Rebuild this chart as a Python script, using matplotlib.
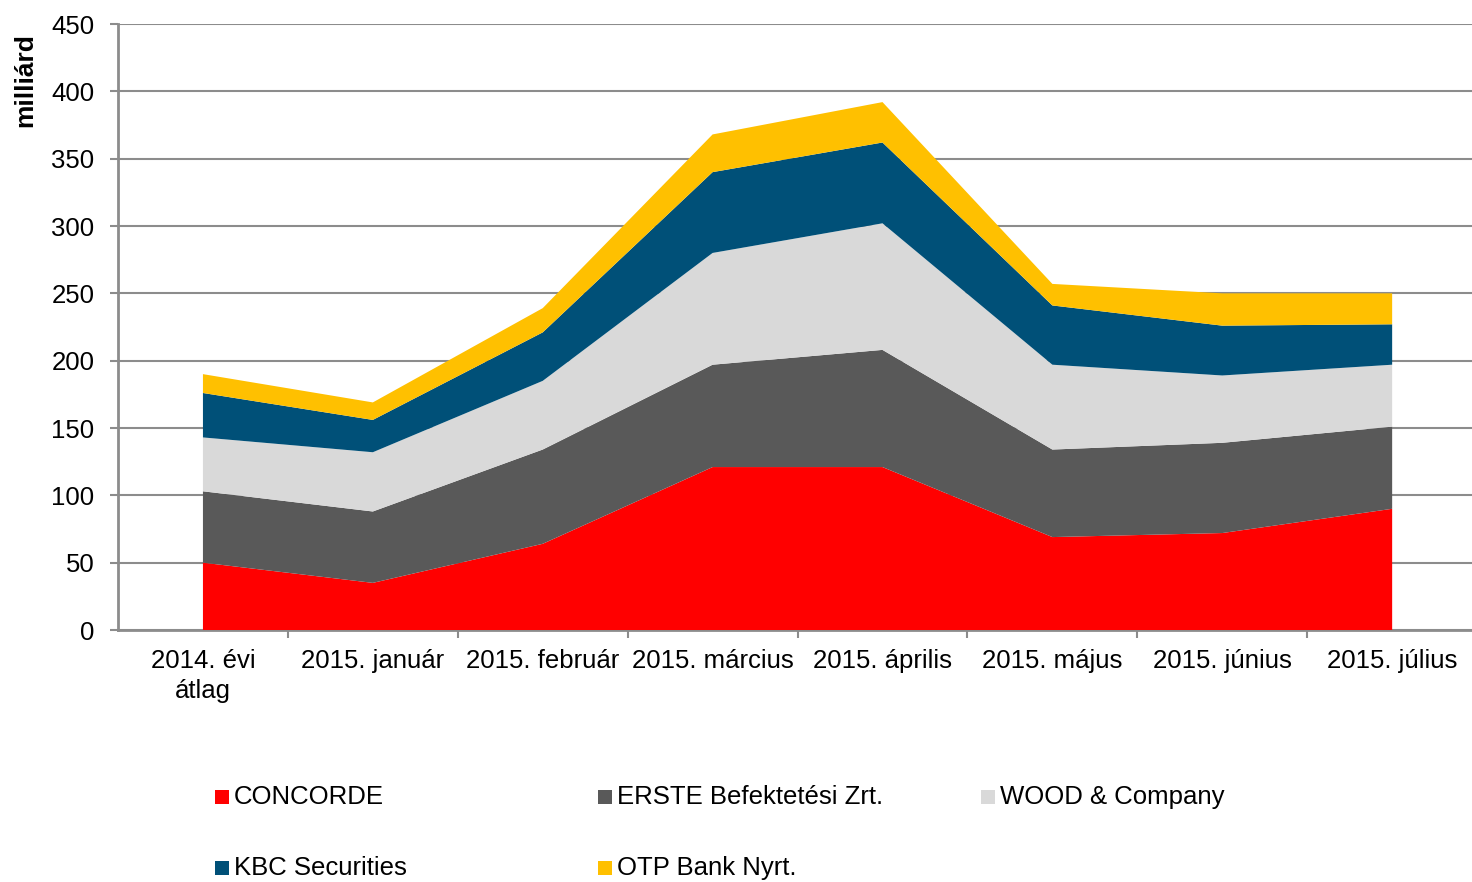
import matplotlib.pyplot as plt
from matplotlib.patches import Rectangle
import numpy as np

plt.rcParams['font.family'] = ['Liberation Sans', 'DejaVu Sans']

# Categories (months)
months = ["2014. évi\nátlag", "2015. január", "2015. február", "2015. március",
          "2015. április", "2015. május", "2015. június", "2015. július"]

# Series values (milliárd)
concorde = [50, 35, 64, 121, 121, 69, 72, 90]
erste = [53, 53, 70, 76, 87, 65, 67, 61]
wood = [40, 44, 51, 83, 94, 63, 50, 46]
kbc = [33, 24, 36, 60, 60, 44, 37, 30]
otp = [14, 13, 18, 28, 30, 16, 24, 23]

names = ["CONCORDE", "ERSTE Befektetési Zrt.", "WOOD & Company",
         "KBC Securities", "OTP Bank Nyrt."]
colors = ["#FF0000", "#595959", "#D9D9D9", "#005078", "#FFC000"]

W, H = 1472, 882
fig = plt.figure(figsize=(W / 100, H / 100), dpi=100)
ax = fig.add_axes([118 / W, 1 - 630 / H, 1 - 118 / W, (630 - 24) / H])

x = np.arange(len(months))
ax.stackplot(x, concorde, erste, wood, kbc, otp, colors=colors,
             linewidth=0, zorder=3)

ax.set_xlim(-0.5, 7.47)
ax.set_ylim(0, 450)
ax.set_yticks(np.arange(0, 451, 50))
ax.yaxis.grid(True, color="#8C8C8C", linewidth=1.5, zorder=0)
ax.set_axisbelow(True)

ax.set_xticks(x)
ax.set_xticklabels(months, fontsize=18.5, linespacing=1.3)
ax.set_xticks(np.arange(0.5, 7.5, 1), minor=True)
ax.tick_params(axis="x", which="major", length=0, pad=14)
ax.tick_params(axis="x", which="minor", length=6, width=1.5, color="#8C8C8C")
ax.tick_params(axis="y", length=6, width=1.5, color="#8C8C8C",
               labelsize=18.5, pad=11)

for side in ["top", "right"]:
    ax.spines[side].set_visible(False)
for side in ["left", "bottom"]:
    ax.spines[side].set_color("#8C8C8C")
    ax.spines[side].set_linewidth(2)

fig.text(25 / W, 1 - 33 / H, "milliárd", rotation=90, fontsize=19,
         fontweight="bold", ha="center", va="top")

# Legend, laid out as in the original (3 columns, 2 rows)
for i, (name, color) in enumerate(zip(names, colors)):
    col, row = i % 3, i // 3
    lx = 215 + col * 383
    ly = 797 + row * 71
    fig.patches.append(Rectangle((lx / W, 1 - (ly + 7) / H), 14 / W, 14 / H,
                                 transform=fig.transFigure, facecolor=color,
                                 edgecolor="none"))
    fig.text((lx + 19) / W, 1 - ly / H, name, fontsize=18.5,
             ha="left", va="center")

fig.savefig("out.png", dpi=100)
